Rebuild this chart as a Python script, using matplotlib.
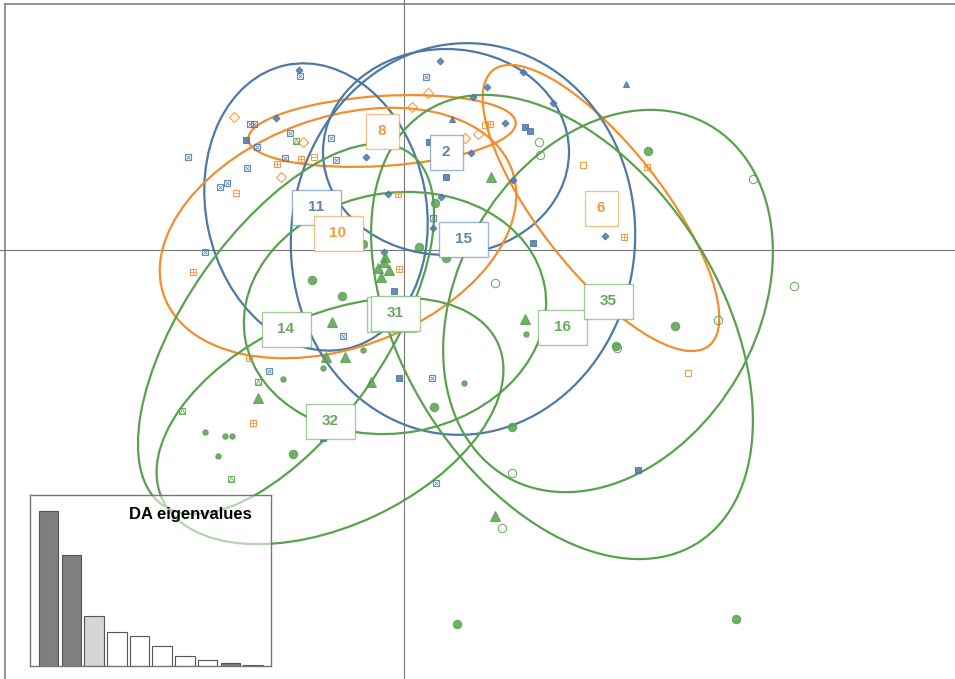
import matplotlib.pyplot as plt
from matplotlib.colors import to_rgba
from matplotlib.patches import Ellipse, Rectangle

BLUE = "#4e79a7"
ORANGE = "#f28e2b"
GREEN = "#59a14f"

# group centroids (DA axis 1, DA axis 2) and labels
labels = ["8", "2", "11", "10", "6", "15", "14", "31", "16", "35", "32"]
cent_x = [-0.22, 0.42, -0.88, -0.66, 1.97, 0.59, -1.18, -0.09, 1.58, 2.04, -0.74]
cent_y = [1.19, 0.98, 0.43, 0.17, 0.42, 0.11, -0.79, -0.63, -0.77, -0.51, -1.71]
group_col = [ORANGE, BLUE, BLUE, ORANGE, ORANGE, BLUE, GREEN, GREEN, GREEN, GREEN, GREEN]

# inertia ellipses: full width, full height, angle (deg)
ell_w = [2.68, 2.46, 2.90, 3.70, 3.50, 3.92, 4.30, 3.04, 5.10, 4.06, 3.70]
ell_h = [0.70, 2.06, 2.20, 2.30, 1.24, 3.44, 2.00, 2.40, 3.18, 3.00, 2.10]
ell_a = [3.6, 0, -78, 20, -52, 85, 55, 10, -58, 60, 25]

# individuals, by colour / symbol
blue_xsq_x = [-1.04, 0.22, -1.54, -1.50, -1.47, -1.14, -1.19, -1.57, -1.84, -1.77,
              -0.73, -0.68, -2.16, -1.99, -0.61, -1.35, 0.28, 0.32, 0.29]
blue_xsq_y = [1.74, 1.73, 1.26, 1.26, 1.03, 1.17, 0.92, 0.82, 0.63, 0.67,
              1.12, 0.90, 0.93, -0.02, -0.86, -1.21, -1.28, -2.33, 0.32]
blue_dia_x = [0.36, 1.19, 0.83, 0.69, 1.01, 0.67, 1.49, 0.37, 0.29, 1.09,
              -0.38, -0.16, -0.20, 2.01, -1.28, -1.05]
blue_dia_y = [1.89, 1.78, 1.63, 1.53, 1.27, 0.97, 1.47, 0.53, 0.22, 0.70,
              0.93, 0.56, -0.02, 0.14, 1.32, 1.80]
blue_sq_x = [-1.58, 0.42, 1.21, 1.26, 1.29, -0.05, -0.10, -0.81, 2.34, 0.25]
blue_sq_y = [1.10, 0.73, 1.23, 1.19, 0.07, -1.28, -0.41, -1.88, -2.20, 1.08]
blue_tri_x = [2.22, 0.48]
blue_tri_y = [1.66, 1.31]

orange_dia_x = [-1.70, -1.23, -1.01, 0.24, 0.08, 0.61, 0.74]
orange_dia_y = [1.33, 0.73, 1.08, 1.57, 1.43, 1.12, 1.16]
orange_plus_x = [-1.27, -1.03, -0.06, -0.05, -2.11, -1.55, -1.51, 0.86, 2.20, 2.43]
orange_plus_y = [0.86, 0.91, 0.56, -0.19, -0.22, -1.08, -1.73, 1.26, 0.13, 0.83]
orange_sq_x = [1.79, 2.84, 0.81]
orange_sq_y = [0.85, -1.23, 1.25]
orange_minus_x = [-1.68, -0.90]
orange_minus_y = [0.57, 0.93]

green_dot_x = [-0.92, -0.62, -0.41, 0.15, 0.31, 0.42, 2.44, 2.71, 2.12, 1.08,
               0.30, -1.11, 0.53, 3.32]
green_dot_y = [-0.30, -0.46, 0.06, 0.03, 0.47, -0.08, 0.99, -0.76, -0.96, -1.77,
               -1.57, -2.04, -3.74, -3.69]
green_small_x = [-1.99, -1.79, -1.72, -1.86, -1.21, -0.41, -0.81, 1.22, 0.60]
green_small_y = [-1.82, -1.86, -1.86, -2.06, -1.29, -1.00, -1.18, -0.84, -1.33]
green_tri_x = [0.87, -0.72, -0.78, -0.59, -0.33, -1.46, 1.21, 0.91,
               -0.26, -0.20, -0.15, -0.23, -0.19]
green_tri_y = [0.73, -0.72, -1.07, -1.07, -1.32, -1.48, -0.69, -2.66,
               -0.18, -0.12, -0.20, -0.27, -0.07]
green_open_x = [1.35, 1.36, 3.49, 3.90, 3.14, 0.91, 2.13, 1.08, 0.98]
green_open_y = [1.08, 0.95, 0.71, -0.36, -0.70, -0.33, -0.98, -2.23, -2.78]
green_sqtri_x = [-1.08, -1.46, -2.22, -1.73]
green_sqtri_y = [1.09, -1.32, -1.61, -2.29]

# DA eigenvalues
eig = [155, 111, 50, 34, 30, 20, 10, 6, 3, 1.2]
eig_fill = ["#7f7f7f", "#7f7f7f", "#d6d6d6", "white", "white", "white",
            "white", "white", "#7f7f7f", "#555555"]


fig = plt.figure(figsize=(9.55, 6.79), dpi=100)
ax = fig.add_axes([0, 0, 1, 1])
ax.set_xlim(-4.04, 5.51)
ax.set_ylim(-4.29, 2.50)
ax.axis("off")

# frame (only top/left visible, rest is cropped) and zero lines
ax.plot([-3.99, 5.6], [2.46, 2.46], color="#8c8c8c", lw=1.3, zorder=1)
ax.plot([-3.99, -3.99], [2.46, -4.4], color="#8c8c8c", lw=1.3, zorder=1)
ax.axhline(0, color="#777777", lw=0.8, zorder=1)
ax.axvline(0, color="#777777", lw=0.8, zorder=1)

for i in range(len(labels)):
    e = Ellipse((cent_x[i], cent_y[i]), ell_w[i], ell_h[i], angle=ell_a[i],
                fill=False, edgecolor=group_col[i], lw=1.6, zorder=2)
    ax.add_patch(e)


def pts(x, y, col, marker, ms, filled=True, inner=None, inner_ms=None):
    fc = col if filled else "none"
    ax.plot(x, y, ls="none", marker=marker, ms=ms, mfc=fc, mec=col,
            mew=0.8, alpha=0.85, zorder=3)
    if inner is not None:
        ax.plot(x, y, ls="none", marker=inner, ms=inner_ms, mfc="none", mec=col,
                mew=0.6, alpha=0.85, zorder=3)


pts(blue_xsq_x, blue_xsq_y, BLUE, "s", 5, False, "x", 3.5)
pts(blue_dia_x, blue_dia_y, BLUE, "D", 3.5)
pts(blue_sq_x, blue_sq_y, BLUE, "s", 5)
pts(blue_tri_x, blue_tri_y, BLUE, "^", 4)
pts(orange_dia_x, orange_dia_y, ORANGE, "D", 5, False)
pts(orange_plus_x, orange_plus_y, ORANGE, "s", 5, False, "+", 5)
pts(orange_sq_x, orange_sq_y, ORANGE, "s", 5, False)
pts(orange_minus_x, orange_minus_y, ORANGE, "s", 5, False, "_", 5)
pts(green_dot_x, green_dot_y, GREEN, "o", 6)
pts(green_small_x, green_small_y, GREEN, "o", 3.8)
pts(green_tri_x, green_tri_y, GREEN, "^", 6.5)
pts(green_open_x, green_open_y, GREEN, "o", 6, False)
pts(green_sqtri_x, green_sqtri_y, GREEN, "s", 5, False, "^", 3.5)

# group labels in boxes
for i in range(len(labels)):
    bw = 0.33 if len(labels[i]) == 1 else 0.49
    bh = 0.35
    edge = to_rgba(group_col[i], 0.55)
    if labels[i] == "31":
        ax.add_patch(Rectangle((cent_x[i] - bw / 2 - 0.035, cent_y[i] - bh / 2 - 0.01),
                               bw, bh, facecolor="white", edgecolor=edge,
                               lw=1, zorder=4))
    ax.add_patch(Rectangle((cent_x[i] - bw / 2, cent_y[i] - bh / 2), bw, bh,
                           facecolor="white", edgecolor=edge, lw=1, zorder=4))
    ax.text(cent_x[i], cent_y[i], labels[i], color=group_col[i], ha="center",
            va="center", fontsize=11, fontweight="bold",
            family="Liberation Sans", alpha=0.9, zorder=5)

# inset with eigenvalues
ax2 = fig.add_axes([30 / 955, 13 / 679, 241 / 955, 171 / 679])
ax2.set_facecolor((1, 1, 1, 0.55))
ax2.bar(range(len(eig)), eig, width=0.86, color=eig_fill, edgecolor="#555555",
        lw=0.8)
ax2.set_xlim(-0.82, 9.79)
ax2.set_ylim(0, eig[0] * 171 / 155)
ax2.set_xticks([])
ax2.set_yticks([])
for s in ax2.spines.values():
    s.set_color("#777777")
    s.set_linewidth(1)
ax2.text(0.665, 0.885, "DA eigenvalues", transform=ax2.transAxes, ha="center",
         va="center", fontsize=12, fontweight="bold", family="Liberation Sans")

fig.savefig("out.png", dpi=100)
